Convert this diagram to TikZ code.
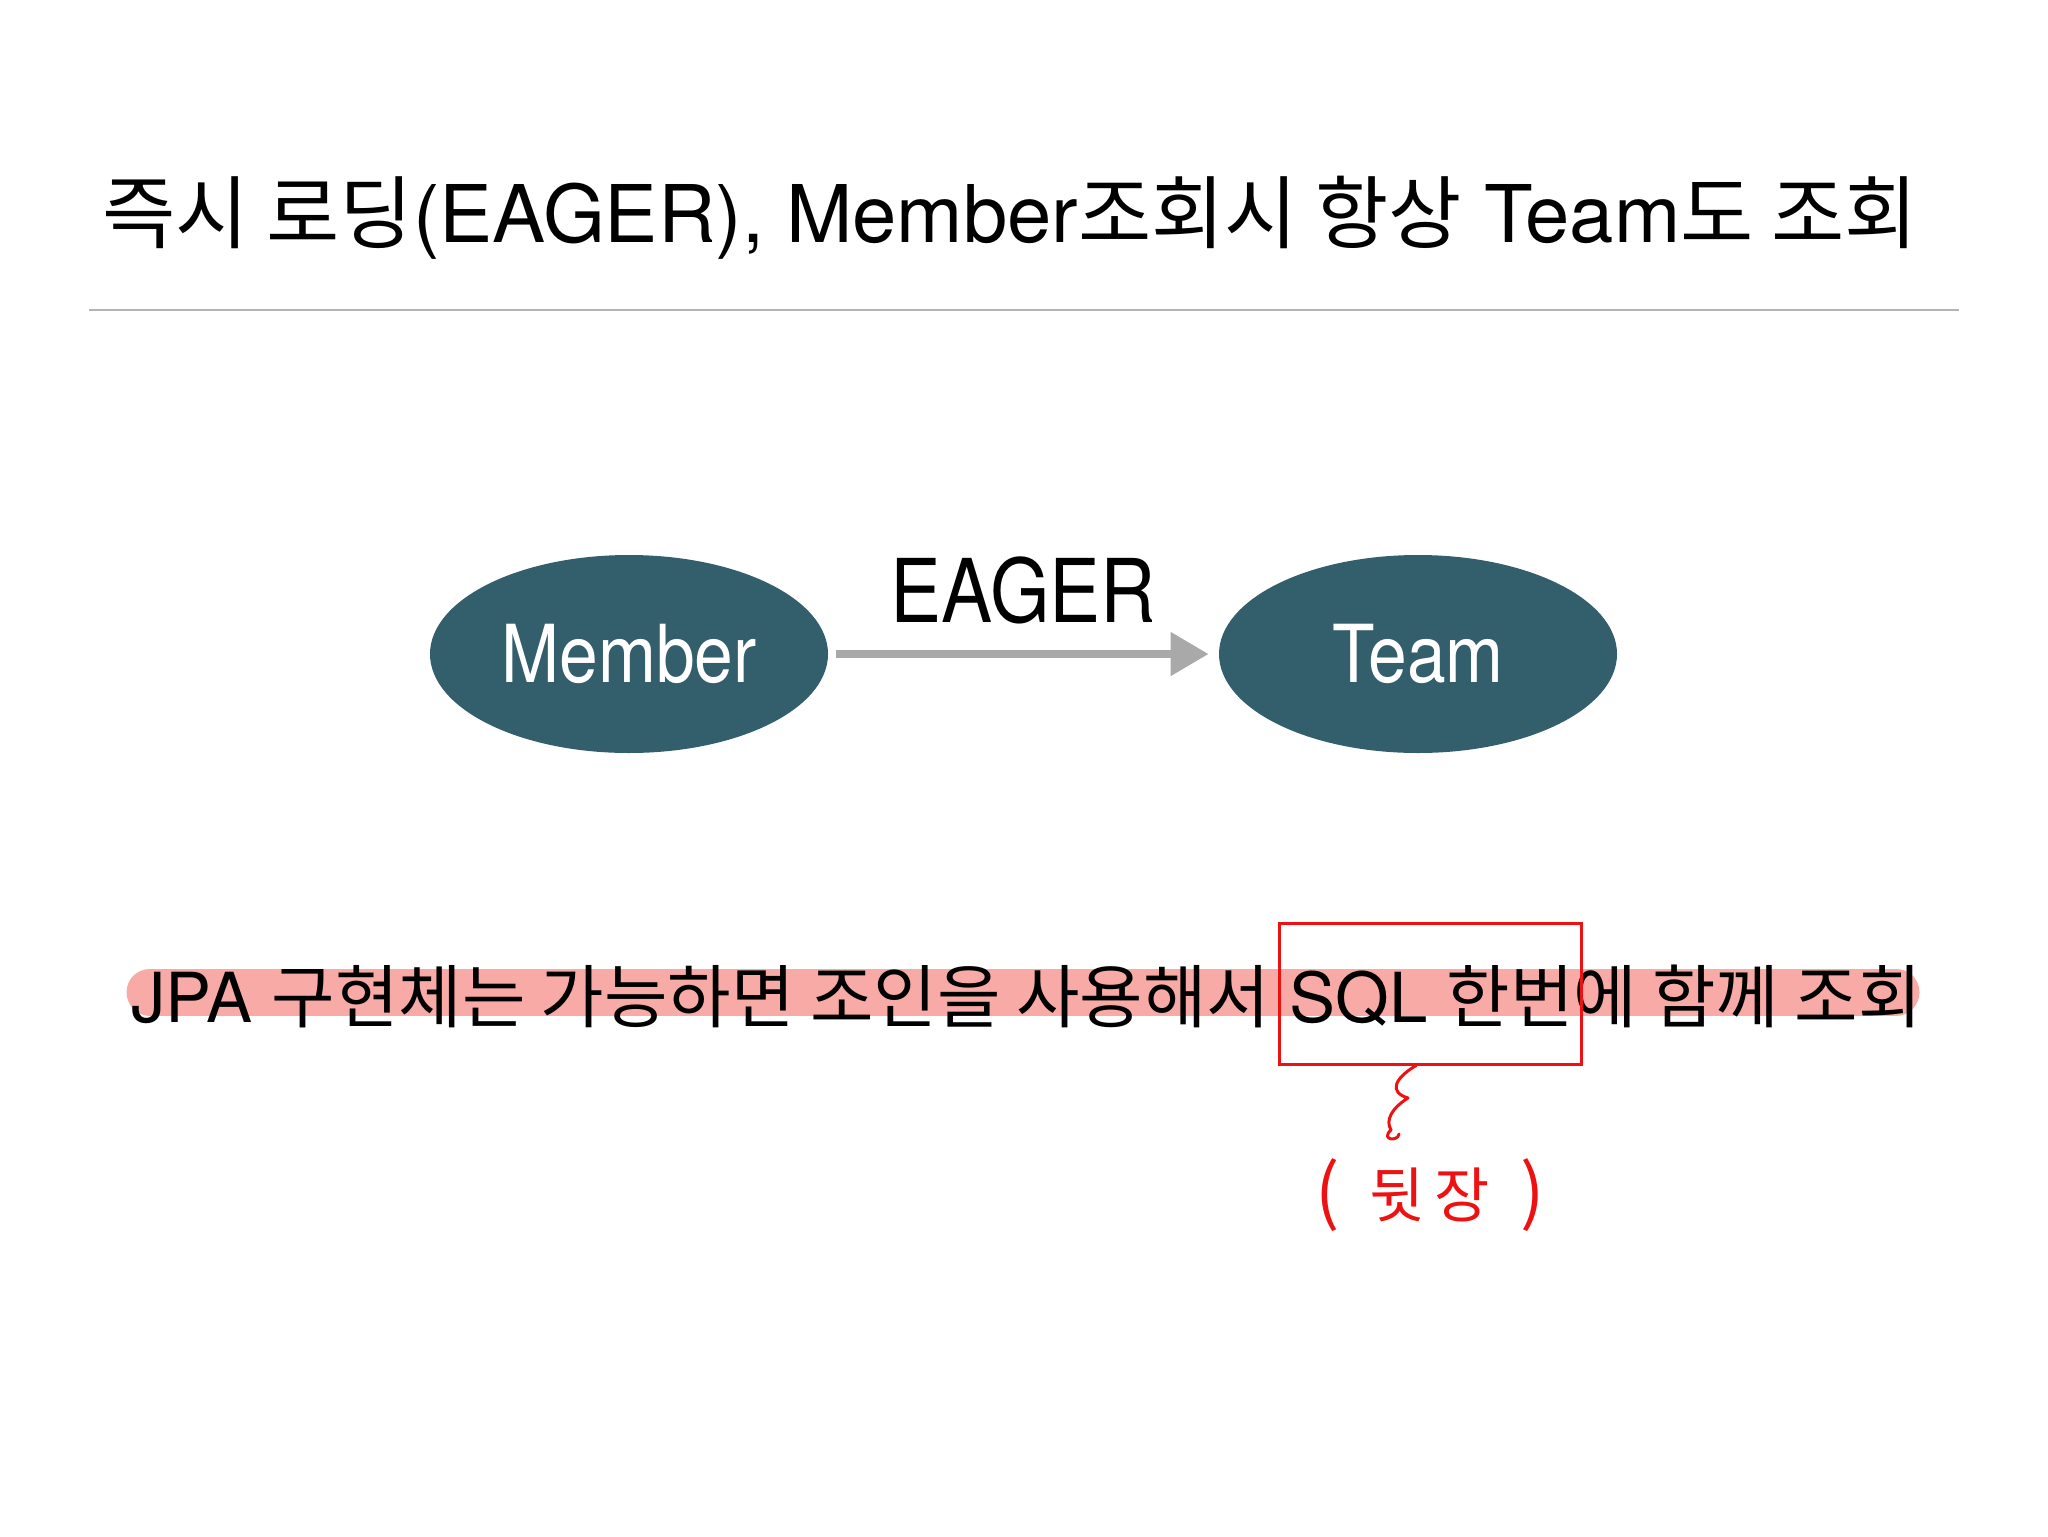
\documentclass[tikz,border=0pt]{standalone}
\usepackage{fontspec}
\setmainfont{TeX Gyre Heros}
\newfontfamily\narrowsf{TeX Gyre Heros}[FakeStretch=0.87]
\newfontfamily\kr{Noto Sans CJK KR}
\usetikzlibrary{arrows.meta,shapes.geometric,backgrounds}
\definecolor{entityfill}{HTML}{335E6B}
\definecolor{arrowgray}{HTML}{A9A9A9}
\definecolor{rulegray}{HTML}{B4B4B4}
\definecolor{marker}{HTML}{F8AAA6}
\definecolor{pen}{HTML}{EE1111}
\tikzset{
  entity/.style={ellipse,fill=entityfill,text=white,minimum width=199pt,
    minimum height=99pt,inner sep=0pt,font=\narrowsf\fontsize{40}{40}\selectfont},
  relation/.style={arrowgray,line width=4pt,-{Triangle[length=19pt,width=21pt]},
    shorten <=4pt,shorten >=5pt},
  highlight/.style={marker,line width=23.5pt,line cap=round},
  penline/.style={pen,line width=1.5pt,line cap=round,line join=round}
}

\begin{document}
\begin{tikzpicture}[x=0.5pt,y=-0.5pt]
  \useasboundingbox (0,0) rectangle (2048,1536);
  % title and rule
  \node[anchor=base west,inner sep=0pt,font=\fontsize{39.8}{40}\selectfont] (title) at (102,242)
    {{\kr 즉시 로딩}(EAGER), Member{\kr 조회시 항상} Team{\kr 도 조회}};
  \draw[rulegray,line width=1pt] (89,310) -- (1959,310);

  % entities
  \node[entity] (member) at (629,654) {Member};
  \node[entity] (team) at (1418,654) {Team};
  \draw[relation] (member) -- node[above=13pt,inner sep=0pt,text=black,
    font=\narrowsf\fontsize{44}{44}\selectfont] (eager) {EAGER} (team);

  % fetch note
  \node[anchor=base west,inner sep=0pt,font=\fontsize{34.5}{35}\selectfont] (fetch) at (131,1022)
    {JPA {\kr 구현체는 가능하면 조인을 사용해서} SQL {\kr 한번에 함께 조회}};
  \begin{scope}[on background layer]
    \draw[highlight] (150,992) -- (1896,992);
  \end{scope}

  % pen marks
  \node[draw=pen,line width=1.5pt,minimum width=151pt,minimum height=70.5pt,
    inner sep=0pt] (sqlbox) at (1430,993.5) {};
  \node[pen,font=\kr\fontsize{30}{30}\selectfont] (backpage) at (1430,1195)
    {{\fontsize{36}{36}\selectfont(}\enspace 뒷\,장\enspace{\fontsize{36}{36}\selectfont)}};
  \draw[penline] ([xshift=-7pt]sqlbox.south) .. controls (1395,1078) and (1388,1092) .. (1408,1098)
    .. controls (1392,1108) and (1385,1120) .. (1391,1130)
    .. controls (1380,1140) and (1398,1142) .. (1399,1134);
\end{tikzpicture}
\end{document}
